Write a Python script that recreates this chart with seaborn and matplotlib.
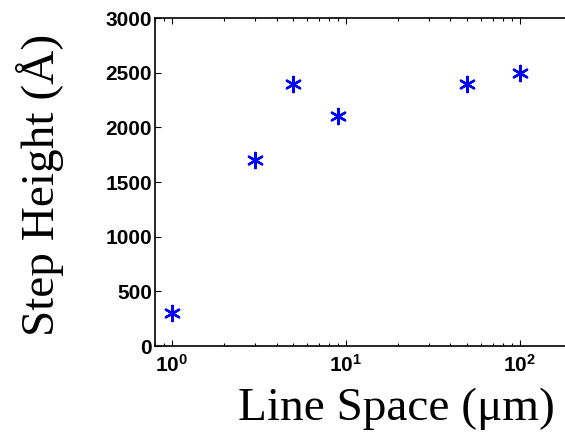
import numpy as np
import pandas as pd
import matplotlib
matplotlib.use("Agg")
import matplotlib.pyplot as plt
import matplotlib.ticker as mticker
import seaborn as sns

# data
line_space = [1, 3, 5, 9, 50, 100]          # um
step_height = [300, 1700, 2400, 2100, 2400, 2500]  # Angstrom

df = pd.DataFrame({"Line Space": line_space, "Step Height": step_height})

sns.set_style("ticks")
plt.rcParams["font.family"] = ["Liberation Sans", "DejaVu Sans"]
plt.rcParams.update({"text.color": "black", "axes.labelcolor": "black",
                     "xtick.color": "black", "ytick.color": "black",
                     "mathtext.fontset": "custom",
                     "mathtext.bf": "Liberation Sans:bold",
                     "mathtext.rm": "Liberation Sans"})

fig = plt.figure(figsize=(5.65, 4.34), dpi=100)
ax = fig.add_axes([155/565, 88/434, 417/565, 328/434])

sns.scatterplot(data=df, x="Line Space", y="Step Height", ax=ax,
                marker=(6, 2, 0), s=120, color="#0000ff", linewidth=1.7,
                edgecolor="#0000ff", legend=False)

ax.set_xscale("log")
ax.set_xlim(0.8, 200)
ax.set_ylim(0, 3000)
ax.set_yticks(np.arange(0, 3001, 500))
ax.set_xticks([1, 10, 100])
ax.xaxis.set_major_formatter(mticker.FuncFormatter(
    lambda v, p: r"$\mathbf{10^{%d}}$" % round(np.log10(v))))

ax.tick_params(which="both", direction="in", top=True, right=True, width=0.8)
ax.tick_params(axis="y", labelsize=15, pad=2)
ax.tick_params(axis="x", labelsize=15, pad=6)
ax.tick_params(which="major", length=4)
ax.tick_params(which="minor", length=2.5)
for lab in ax.get_yticklabels():
    lab.set_fontweight("bold")

for sp in ax.spines.values():
    sp.set_linewidth(1.2)
    sp.set_color("black")

ax.set_xlabel("Line Space (\u03bcm)", fontsize=34, family=["Liberation Serif", "DejaVu Serif"])
ax.set_ylabel("Step Height (\u00c5)", fontsize=34, family=["Liberation Serif", "DejaVu Serif"])
ax.xaxis.set_label_coords(0.578, -0.192)
ax.xaxis.label.set_va("center")
ax.yaxis.set_label_coords(-0.276, 0.49)
ax.yaxis.label.set_va("center")

fig.savefig("out.png", dpi=100)
